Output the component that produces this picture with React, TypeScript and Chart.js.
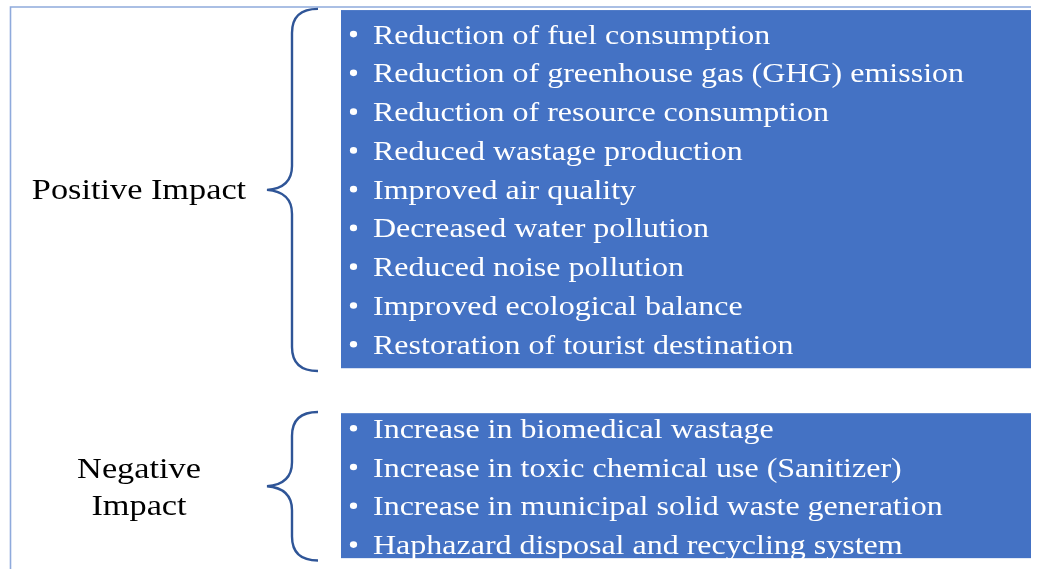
import React, { useEffect, useRef } from "react";
import { Chart, registerables } from "chart.js";

Chart.register(...registerables);

// ---- content ----
const groupLabels: string[][] = [["Positive Impact"], ["Negative", "Impact"]];
const positiveItems: string[] = [
  "Reduction of fuel consumption",
  "Reduction of greenhouse gas (GHG) emission",
  "Reduction of resource consumption",
  "Reduced wastage production",
  "Improved air quality",
  "Decreased water pollution",
  "Reduced noise pollution",
  "Improved ecological balance",
  "Restoration of tourist destination",
];
const negativeItems: string[] = [
  "Increase in biomedical wastage",
  "Increase in toxic chemical use (Sanitizer)",
  "Increase in municipal solid waste generation",
  "Haphazard disposal and recycling system",
];
// row index where each group's first line sits
const groupStartRows: number[] = [0, 10.17];

const W = 1037;
const H = 569;

const FONT = '"Liberation Serif", "Times New Roman", serif';
const BOX_COLOR = "#4472c4";
const BRACE_COLOR = "#2f5597";
const FRAME_COLOR = "#8faadc";
const STRETCH = 1.143;

function drawText(ctx: CanvasRenderingContext2D, t: string, x: number, y: number) {
  ctx.save();
  ctx.translate(x, y);
  ctx.scale(STRETCH, 1);
  ctx.fillText(t, 0, 0);
  ctx.restore();
}

const diagramPlugin = {
  id: "diagram",
  afterDraw(chart: any) {
    const ctx: CanvasRenderingContext2D = chart.ctx;
    const xs = chart.scales.x;
    const ys = chart.scales.y;
    const px = (v: number) => xs.getPixelForValue(v);
    const py = (r: number) => ys.getPixelForValue(r);

    ctx.save();
    // frame
    ctx.strokeStyle = FRAME_COLOR;
    ctx.lineWidth = 1.6;
    ctx.beginPath();
    ctx.moveTo(px(10.5), py(13.9));
    ctx.lineTo(px(10.5), py(-0.7));
    ctx.lineTo(px(1031), py(-0.7));
    ctx.stroke();

    const groups = [positiveItems, negativeItems];
    const pads = [
      [0.62, 0.62],
      [0.39, 0.35],
    ];
    const bracePads = [
      [0.65, 0.69],
      [0.42, 0.41],
    ];
    groups.forEach((items, g) => {
      const r0 = groupStartRows[g];
      const r1 = r0 + items.length - 1;
      // box
      const top = py(r0 - pads[g][0]);
      const bot = py(r1 + pads[g][1]);
      const left = px(341);
      const right = px(1031);
      ctx.fillStyle = BOX_COLOR;
      ctx.fillRect(left, top, right - left, bot - top);

      // items
      ctx.font = `28px ${FONT}`;
      ctx.textBaseline = "alphabetic";
      ctx.textAlign = "left";
      items.forEach((t, i) => {
        const y = py(r0 + i);
        ctx.fillStyle = "#ffffff";
        ctx.beginPath();
        ctx.ellipse(px(353.5), y, 3.6, 3.3, 0, 0, Math.PI * 2);
        ctx.fill();
        drawText(ctx, t, px(373), y + 9.5);
      });

      // brace
      const bTop = py(r0 - bracePads[g][0]);
      const bBot = py(r1 + bracePads[g][1]);
      const mid = (bTop + bBot) / 2;
      const xv = px(292);
      const xe = px(318);
      const xt = px(267);
      const rr = 24;
      ctx.strokeStyle = BRACE_COLOR;
      ctx.lineWidth = 2.4;
      ctx.lineCap = "butt";
      ctx.beginPath();
      ctx.moveTo(xe, bTop);
      ctx.quadraticCurveTo(xv, bTop, xv, bTop + rr);
      ctx.lineTo(xv, mid - 24);
      ctx.quadraticCurveTo(xv, mid - 2, xt, mid);
      ctx.quadraticCurveTo(xv, mid + 2, xv, mid + 24);
      ctx.lineTo(xv, bBot - rr);
      ctx.quadraticCurveTo(xv, bBot, xe, bBot);
      ctx.stroke();

      // label
      const lines = groupLabels[g];
      ctx.fillStyle = "#000000";
      ctx.font = `30px ${FONT}`;
      ctx.textAlign = "center";
      const lh = 37;
      const cy = ys.getPixelForValue((r0 + r1) / 2);
      lines.forEach((l, k) => {
        const yy = cy + (k - (lines.length - 1) / 2) * lh;
        drawText(ctx, l, px(139), yy + 10);
      });
    });
    ctx.restore();
  },
};

export default function App() {
  const ref = useRef<HTMLCanvasElement | null>(null);
  useEffect(() => {
    document.body.style.margin = "0";
    document.body.style.background = "#ffffff";
    if (!ref.current) return;
    const chart = new Chart(ref.current, {
      type: "scatter",
      data: { datasets: [{ data: [], showLine: false }] },
      options: {
        animation: false,
        responsive: false,
        devicePixelRatio: 1,
        layout: { padding: 0 },
        plugins: { legend: { display: false }, tooltip: { enabled: false } },
        scales: {
          x: { type: "linear", min: 0, max: W, display: false },
          y: { type: "linear", min: -0.88, max: 13.8, reverse: true, display: false },
        },
      },
      plugins: [diagramPlugin],
    });
    return () => chart.destroy();
  }, []);
  return <canvas ref={ref} width={W} height={H} style={{ display: "block" }} />;
}
